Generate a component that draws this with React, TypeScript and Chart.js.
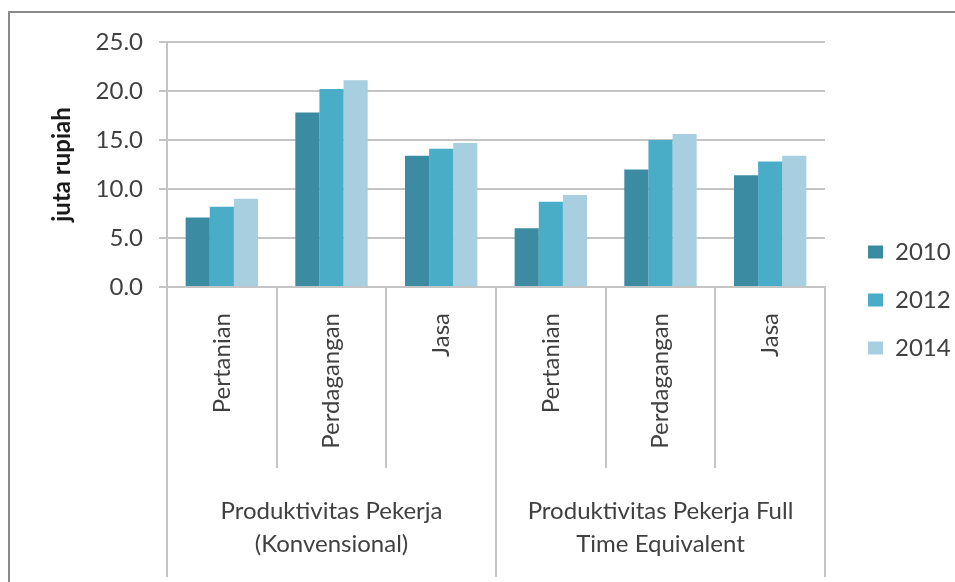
import React, { useEffect, useRef } from "react";
import { Chart, registerables } from "chart.js";

Chart.register(...registerables);

// Sectors, the two productivity measures that group them, and the survey years.
const sectors = ["Pertanian", "Perdagangan", "Jasa", "Pertanian", "Perdagangan", "Jasa"];
const measures = [
  ["Produktivitas Pekerja", "(Konvensional)"],
  ["Produktivitas Pekerja Full", "Time Equivalent"],
];
const years = ["2010", "2012", "2014"];

// Productivity in juta rupiah, one entry per sector column.
const values2010 = [7.1, 17.8, 13.4, 6.0, 12.0, 11.4];
const values2012 = [8.2, 20.2, 14.1, 8.7, 15.0, 12.8];
const values2014 = [9.0, 21.1, 14.7, 9.4, 15.6, 13.4];

const yTicks = [0, 5, 10, 15, 20, 25];

const colors = ["#3b8ba2", "#4aadc7", "#a8cfdf"];
const textColor = "#404040";
const lineColor = "#c4c4c4";
const family = "Lato, 'Open Sans', sans-serif";

export default function App() {
  const canvasRef = useRef<HTMLCanvasElement | null>(null);

  useEffect(() => {
    const canvas = canvasRef.current;
    if (!canvas) return;
    const series = [values2010, values2012, values2014];
    const chart = new Chart(canvas, {
      type: "bar",
      data: {
        labels: sectors,
        datasets: years.map((year, i) => ({
          label: year,
          data: series[i],
          backgroundColor: colors[i],
          borderWidth: 0,
          barPercentage: 1,
          categoryPercentage: 0.66,
        })),
      },
      options: {
        responsive: false,
        animation: false,
        devicePixelRatio: 1,
        layout: { padding: { top: 18, left: 0, right: 0, bottom: 0 } },
        plugins: {
          tooltip: { enabled: false },
          legend: {
            position: "right",
            maxWidth: 111,
            labels: {
              boxWidth: 15,
              boxHeight: 13,
              padding: 24,
              color: textColor,
              font: { family, size: 24 },
            },
          },
        },
        scales: {
          x: {
            type: "category",
            position: "bottom",
            weight: 0,
            afterFit: (s: any) => {
              s.height = 181;
            },
            grid: {
              display: true,
              offset: true,
              drawOnChartArea: false,
              drawTicks: true,
              tickLength: 181,
              color: lineColor,
              lineWidth: 2,
            },
            border: { display: true, color: lineColor, width: 2 },
            ticks: {
              autoSkip: false,
              minRotation: 90,
              maxRotation: 90,
              padding: -155,
              color: textColor,
              font: { family, size: 24 },
            },
          },
          x2: {
            type: "category",
            axis: "x",
            position: "bottom",
            weight: 1,
            labels: measures as any,
            offset: true,
            afterFit: (s: any) => {
              s.height = 114;
            },
            grid: {
              display: true,
              offset: true,
              drawOnChartArea: false,
              drawTicks: true,
              tickLength: 109,
              color: lineColor,
              lineWidth: 2,
            },
            border: { display: false },
            ticks: {
              autoSkip: false,
              minRotation: 0,
              maxRotation: 0,
              padding: -82,
              color: textColor,
              font: { family, size: 24, lineHeight: 1.375 },
            },
          },
          y: {
            type: "linear",
            position: "left",
            min: 0,
            max: 25,
            afterFit: (s: any) => {
              s.width = 167;
            },
            afterBuildTicks: (s: any) => {
              s.ticks = yTicks.map((v) => ({ value: v }));
            },
            grid: { color: lineColor, lineWidth: 2, tickLength: 8 },
            border: { display: true, color: lineColor, width: 2 },
            ticks: {
              padding: 16,
              color: textColor,
              font: { family, size: 24 },
              callback: (v: any) => Number(v).toFixed(1),
            },
            title: {
              display: true,
              text: "juta rupiah",
              color: "#1a1a1a",
              padding: { top: 48, bottom: 0 },
              font: { family, size: 24, weight: "bold", lineHeight: 1.2 },
            },
          },
          // empty band above the plot
          gapTop: {
            type: "linear",
            position: "top",
            display: true,
            afterFit: (s: any) => {
              s.height = 24;
            },
            grid: { display: false },
            border: { display: false },
            ticks: { display: false },
          },
          // spacer between the plot and the legend
          gap: {
            type: "linear",
            position: "right",
            display: true,
            afterFit: (s: any) => {
              s.width = 19;
            },
            grid: { display: false },
            border: { display: false },
            ticks: { display: false },
          },
        },
      },
    });
    return () => chart.destroy();
  }, []);

  return (
    <div
      style={{
        position: "absolute",
        left: 0,
        top: 0,
        width: 955,
        height: 582,
        background: "#ffffff",
        overflow: "hidden",
      }}
    >
      <canvas ref={canvasRef} width={955} height={582} style={{ display: "block" }} />
      <div
        style={{
          position: "absolute",
          left: 8,
          top: 11,
          width: 960,
          height: 600,
          borderTop: "2px solid #8a8a8a",
          borderLeft: "2px solid #8a8a8a",
          pointerEvents: "none",
        }}
      />
    </div>
  );
}
